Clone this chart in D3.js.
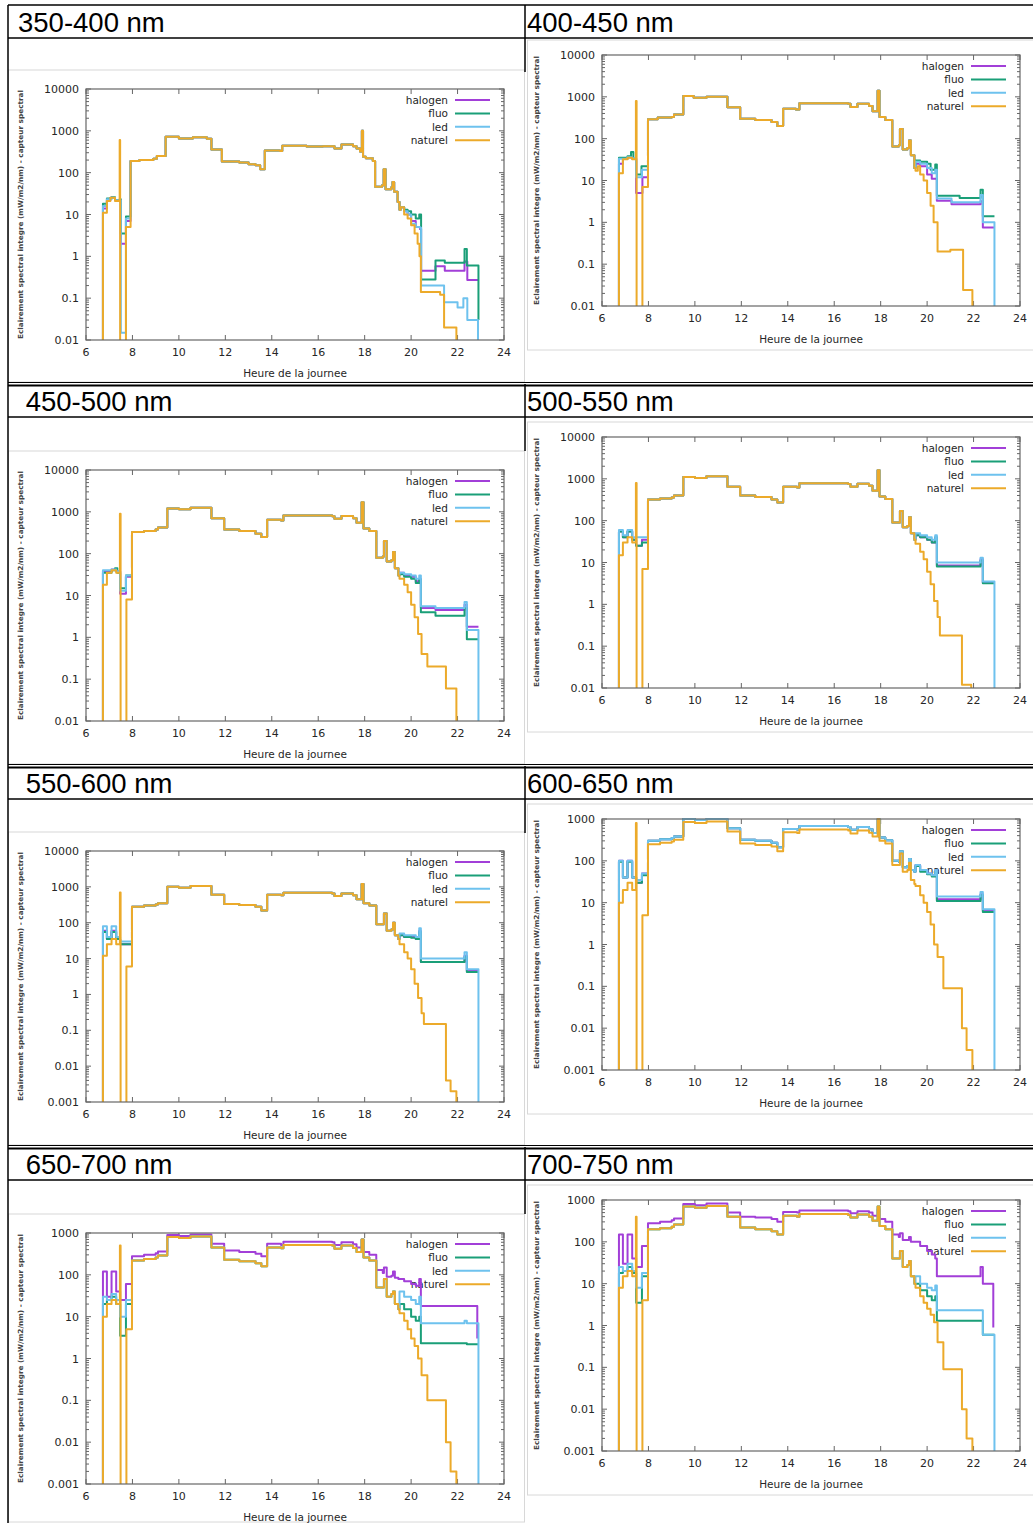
<!DOCTYPE html>
<html><head><meta charset="utf-8">
<script src="https://cdn.jsdelivr.net/npm/d3@7"></script>
<style>body{margin:0;background:#fff}</style>
</head><body><svg id="c" width="1033" height="1523"></svg>
<script>
// ---------------- DATA ----------------
const titles = ["350-400 nm","400-450 nm"," 450-500 nm","500-550 nm"," 550-600 nm","600-650 nm"," 650-700 nm","700-750 nm"];
const yDomains = [[0.01,10000],[0.01,10000],[0.01,10000],[0.01,10000],[0.001,10000],[0.001,1000],[0.001,1000],[0.001,1000]];
const xTicks = [6,8,10,12,14,16,18,20,22,24];
const seriesNames = ["halogen","fluo","led","naturel"];
const xLabel = "Heure de la journee";
const yLabel = "Eclairement spectral integre (mW/m2/nm) - capteur spectral";

// 350-400 nm
const day_350 = [[7.92,190],[8.3,200],[8.9,215],[9.05,250],[9.43,720],[10.0,660],[10.6,700],[11.2,650],[11.4,360],[11.85,185],[12.6,175],[13.0,160],[13.3,150],[13.5,120],[13.7,340],[14.35,330],[14.45,440],[15.5,420],[16.2,430],[16.7,380],[17.0,470],[17.5,430],[17.65,380],[17.8,320],[17.88,1000],[17.93,240],[18.05,220],[18.35,190],[18.45,46],[18.75,50],[18.82,120],[18.9,40],[19.15,45],[19.2,60],[19.27,35],[19.42,20],[19.5,13]];
const nat_350_m = [[6.72,1e-5],[6.73,11],[6.9,21],[7.05,25],[7.25,21],[7.43,22],[7.45,600],[7.47,1e-5],[7.72,5]];
const nat_350_e = [[19.55,15],[19.7,10],[19.85,8],[20.0,5.5],[20.15,3.5],[20.28,2],[20.36,1],[20.42,0.14],[21.25,0.12],[21.42,0.02],[21.95,1e-5]];
const hal_350_m = [[6.72,1e-5],[6.73,14],[6.9,22],[7.05,25],[7.25,22],[7.45,22],[7.5,2],[7.72,7]];
const hal_350_e = [[19.55,15],[19.7,12],[19.85,10],[20.0,7],[20.2,5],[20.38,4.5],[20.43,0.45],[21.05,0.58],[21.45,0.45],[22.3,0.75],[22.42,0.27],[22.9,0.27]];
const flu_350_m = [[6.72,1e-5],[6.73,18],[6.9,24],[7.1,26],[7.25,22],[7.45,23],[7.5,3.5],[7.72,9]];
const flu_350_e = [[19.55,15],[19.7,13],[19.85,12],[20.0,10],[20.2,8],[20.35,10],[20.43,0.28],[21.05,0.8],[21.45,0.7],[22.3,1.5],[22.4,0.6],[22.9,0.03],[22.92,0.03]];
const led_350_m = [[6.72,1e-5],[6.73,16],[6.9,23],[7.1,25],[7.25,22],[7.45,22],[7.5,0.015],[7.72,8]];
const led_350_e = [[19.55,15],[19.7,12],[19.85,10],[20.0,6],[20.2,5],[20.38,4.8],[20.43,0.2],[21.42,0.08],[22.0,0.06],[22.25,0.1],[22.42,0.03],[22.88,1e-5]];

// 400-450 nm
const day_400 = [[7.98,290],[8.4,320],[9.0,330],[9.1,380],[9.5,1050],[9.95,950],[10.5,1000],[11.4,560],[11.95,300],[12.6,280],[13.3,250],[13.55,200],[13.8,520],[14.35,500],[14.5,700],[16.6,680],[16.7,570],[17.0,680],[17.5,600],[17.65,450],[17.87,1400],[17.95,330],[18.2,280],[18.5,65],[18.78,70],[18.83,170],[18.95,55],[19.15,60],[19.22,90],[19.3,40],[19.45,20]];
const nat_400_m = [[6.72,1e-5],[6.73,15],[6.9,32],[7.1,35],[7.3,32],[7.46,800],[7.49,1e-5],[7.74,7]];
const nat_400_e = [[19.5,17],[19.6,22],[19.7,14],[19.85,10],[20.0,5],[20.15,2.5],[20.28,1],[20.45,0.2],[21.0,0.22],[21.55,0.024],[21.95,1e-5]];
const hal_400_m = [[6.72,1e-5],[6.73,25],[6.9,33],[7.1,36],[7.3,33],[7.47,5],[7.74,12]];
const hal_400_e = [[19.5,25],[19.7,22],[20.0,14],[20.2,11],[20.35,11],[20.42,3.3],[21.05,2.7],[22.3,3.2],[22.4,0.75],[22.9,0.75]];
const flu_400_m = [[6.72,1e-5],[6.73,35],[7.1,38],[7.25,48],[7.35,33],[7.47,14],[7.7,22]];
const flu_400_e = [[19.5,30],[19.7,28],[20.0,25],[20.15,18],[20.35,24],[20.42,4.3],[21.4,3.8],[22.3,6],[22.4,1.4],[22.9,1.4]];
const led_400_m = [[6.72,1e-5],[6.73,33],[7.1,36],[7.3,34],[7.47,12],[7.72,18]];
const led_400_e = [[19.5,28],[19.7,25],[20.0,20],[20.2,15],[20.35,18],[20.42,3.7],[21.05,3.0],[22.3,4.5],[22.4,1.0],[22.9,1e-5]];

// 450-500 nm
const day_450 = [[7.98,330],[8.5,350],[9.0,380],[9.1,420],[9.5,1200],[10.0,1150],[10.5,1250],[11.4,700],[11.95,380],[12.6,350],[13.3,300],[13.55,250],[13.8,650],[14.4,620],[14.5,820],[16.6,780],[16.7,680],[17.0,800],[17.5,700],[17.65,550],[17.87,1700],[17.95,400],[18.2,350],[18.5,80],[18.78,85],[18.83,200],[18.95,65],[19.15,70],[19.22,110],[19.3,45],[19.45,30]];
const nat_450_m = [[6.72,1e-5],[6.73,18],[6.9,35],[7.1,40],[7.3,35],[7.46,900],[7.49,1e-5],[7.74,8]];
const nat_450_e = [[19.5,25],[19.7,18],[19.85,12],[20.0,6],[20.15,3],[20.3,1.2],[20.45,0.4],[20.7,0.2],[21.5,0.06],[21.95,1e-5]];
const hal_450_m = [[6.72,1e-5],[6.73,38],[7.1,42],[7.3,38],[7.47,11],[7.72,28]];
const hal_450_e = [[19.5,35],[19.7,30],[20.0,28],[20.2,22],[20.35,25],[20.42,5],[21.05,4.5],[22.3,6],[22.4,1.8],[22.9,1.8]];
const flu_450_m = [[6.72,1e-5],[6.73,35],[7.1,40],[7.25,45],[7.35,35],[7.47,15],[7.72,30]];
const flu_450_e = [[19.5,32],[19.7,28],[20.0,25],[20.2,20],[20.35,24],[20.42,4],[21.05,3.3],[22.3,5],[22.4,0.9],[22.9,0.9]];
const led_450_m = [[6.72,1e-5],[6.73,40],[7.1,42],[7.3,38],[7.47,13],[7.72,30]];
const led_450_e = [[19.5,35],[19.7,32],[20.0,30],[20.2,25],[20.35,30],[20.42,5.5],[21.05,5],[22.3,7],[22.4,1.5],[22.9,1e-5]];

// 500-550 nm
const day_500 = [[7.98,320],[8.5,340],[9.0,360],[9.1,400],[9.5,1100],[10.0,1050],[10.5,1150],[11.4,650],[11.95,400],[12.6,370],[13.3,320],[13.55,270],[13.8,650],[14.4,620],[14.5,780],[16.6,750],[16.7,650],[17.0,760],[17.5,680],[17.65,520],[17.87,1600],[17.95,380],[18.2,330],[18.5,90],[18.78,90],[18.83,170],[18.95,70],[19.15,75],[19.22,120],[19.3,50],[19.45,35]];
const nat_500_m = [[6.72,1e-5],[6.73,15],[6.9,30],[7.1,40],[7.3,30],[7.46,800],[7.49,1e-5],[7.74,7]];
const nat_500_e = [[19.5,28],[19.7,18],[19.85,12],[20.0,6],[20.15,3],[20.3,1.2],[20.45,0.5],[20.55,0.18],[21.5,0.012],[21.9,1e-5]];
const hal_500_m = [[6.72,1e-5],[6.73,55],[6.9,40],[7.1,55],[7.3,35],[7.47,25],[7.72,35]];
const hal_500_e = [[19.5,45],[19.7,40],[20.0,35],[20.2,30],[20.35,40],[20.42,8.5],[22.3,12],[22.4,3.3],[22.9,3.3]];
const flu_500_m = [[6.72,1e-5],[6.73,55],[6.9,40],[7.1,55],[7.3,35],[7.47,25],[7.72,30]];
const flu_500_e = [[19.5,45],[19.7,40],[20.0,35],[20.2,30],[20.35,40],[20.42,8],[22.3,11],[22.4,3.2],[22.9,3.2]];
const led_500_m = [[6.72,1e-5],[6.73,60],[6.9,45],[7.1,60],[7.3,40],[7.47,40],[7.72,40]];
const led_500_e = [[19.5,50],[19.7,45],[20.0,40],[20.2,35],[20.35,45],[20.42,10],[22.3,13],[22.4,3.5],[22.9,1e-5]];

// 550-600 nm
const day_550 = [[7.98,280],[8.5,300],[9.0,320],[9.1,350],[9.5,1000],[10.0,950],[10.5,1050],[11.4,600],[11.95,330],[12.6,310],[13.3,280],[13.55,220],[13.8,600],[14.4,580],[14.5,680],[16.6,650],[16.7,560],[17.0,650],[17.5,580],[17.65,450],[17.87,1200],[17.95,350],[18.2,300],[18.5,90],[18.78,90],[18.83,180],[18.95,60],[19.15,65],[19.22,100],[19.3,45],[19.45,35]];
const nat_550_m = [[6.72,1e-5],[6.73,12],[6.9,25],[7.1,35],[7.3,25],[7.46,700],[7.49,1e-5],[7.74,6]];
const nat_550_e = [[19.5,25],[19.7,15],[19.85,10],[20.0,5],[20.15,2],[20.3,0.8],[20.45,0.3],[20.55,0.15],[21.5,0.004],[21.7,0.002],[21.95,1e-5]];
const hal_550_m = [[6.72,1e-5],[6.73,60],[6.9,35],[7.1,60],[7.3,35],[7.47,25],[7.72,25]];
const hal_550_e = [[19.5,45],[19.7,40],[20.0,40],[20.2,35],[20.35,60],[20.42,8],[22.3,12],[22.4,4.5],[22.9,4.5]];
const flu_550_m = [[6.72,1e-5],[6.73,55],[6.9,35],[7.1,55],[7.3,35],[7.47,25],[7.72,25]];
const flu_550_e = [[19.5,45],[19.7,40],[20.0,38],[20.2,35],[20.35,55],[20.42,8],[22.3,11],[22.4,4.2],[22.9,4.2]];
const led_550_m = [[6.72,1e-5],[6.73,80],[6.9,40],[7.1,80],[7.3,40],[7.47,30],[7.72,30]];
const led_550_e = [[19.5,50],[19.7,45],[20.0,45],[20.2,40],[20.35,70],[20.42,10],[22.3,15],[22.4,5],[22.9,1e-5]];

// 600-650 nm
const day_600 = [[7.98,250],[8.5,270],[9.0,290],[9.1,320],[9.5,850],[10.0,800],[10.5,870],[11.4,500],[11.95,260],[12.6,240],[13.3,220],[13.55,170],[13.8,480],[14.4,460],[14.5,560],[16.6,530],[16.7,450],[17.0,530],[17.5,470],[17.65,380],[17.87,1000],[17.95,300],[18.2,260],[18.5,80],[18.78,80],[18.83,150],[18.95,55],[19.15,60],[19.22,90],[19.3,35],[19.45,28]];
const dayArt_600 = [[7.98,300],[8.5,330],[9.0,350],[9.1,380],[9.5,1000],[10.0,950],[10.5,1000],[11.4,600],[11.95,320],[12.6,300],[13.3,270],[13.55,210],[13.8,580],[14.4,560],[14.5,680],[16.6,640],[16.7,550],[17.0,640],[17.5,570],[17.65,460],[17.87,1000],[17.95,360],[18.2,310],[18.5,100],[18.78,95],[18.83,170],[18.95,70],[19.15,75],[19.22,110],[19.3,60],[19.45,55]];
const nat_600_m = [[6.72,1e-5],[6.73,10],[6.9,20],[7.1,30],[7.3,20],[7.46,800],[7.49,1e-5],[7.74,5]];
const nat_600_e = [[19.5,25],[19.7,15],[19.85,10],[20.0,6],[20.15,3],[20.3,1],[20.45,0.5],[20.7,0.09],[21.5,0.01],[21.7,0.003],[21.95,1e-5]];
const hal_600_m = [[6.72,1e-5],[6.73,100],[6.9,40],[7.1,100],[7.3,40],[7.47,30],[7.72,50]];
const hal_600_e = [[19.5,80],[19.7,60],[20.0,50],[20.2,45],[20.35,60],[20.42,12],[22.3,16],[22.4,6.5],[22.9,6.5]];
const flu_600_m = [[6.72,1e-5],[6.73,95],[6.9,40],[7.1,95],[7.3,40],[7.47,30],[7.72,45]];
const flu_600_e = [[19.5,75],[19.7,55],[20.0,48],[20.2,42],[20.35,55],[20.42,11],[22.3,15],[22.4,6],[22.9,6]];
const led_600_m = [[6.72,1e-5],[6.73,100],[6.9,40],[7.1,100],[7.3,40],[7.47,35],[7.72,50]];
const led_600_e = [[19.5,80],[19.7,60],[20.0,50],[20.2,45],[20.35,60],[20.42,14],[22.3,18],[22.4,7],[22.9,1e-5]];

// 650-700 nm
const day_650 = [[7.98,220],[8.5,240],[9.0,260],[9.1,290],[9.5,800],[10.0,760],[10.5,820],[11.4,450],[11.95,230],[12.6,210],[13.3,190],[13.55,160],[13.8,450],[14.4,430],[14.5,520],[16.6,500],[16.7,420],[17.0,500],[17.5,440],[17.65,350],[17.87,700],[17.95,260],[18.2,220],[18.5,50],[18.78,50],[18.83,80],[18.95,30],[19.15,35],[19.22,40],[19.3,20],[19.45,15]];
const dayHal_650 = [[7.98,280],[8.5,300],[9.0,330],[9.1,360],[9.5,900],[10.0,850],[10.5,920],[11.4,550],[11.95,380],[12.6,350],[13.3,320],[13.55,280],[13.8,550],[14.4,520],[14.5,620],[16.6,600],[16.7,520],[17.0,600],[17.5,540],[17.65,450],[17.87,700],[17.95,350],[18.2,300],[18.5,130],[18.78,110],[18.83,150],[18.95,90],[19.15,95],[19.22,120],[19.3,85],[19.45,80]];
const nat_650_m = [[6.72,1e-5],[6.73,10],[6.9,20],[7.1,25],[7.3,20],[7.46,500],[7.49,1e-5],[7.74,5]];
const nat_650_e = [[19.5,12],[19.7,8],[19.85,5],[20.0,3],[20.15,2],[20.3,1],[20.45,0.4],[20.7,0.1],[21.5,0.01],[21.7,0.002],[21.95,1e-5]];
const hal_650_m = [[6.72,1e-5],[6.73,120],[6.9,30],[7.1,120],[7.3,40],[7.47,25],[7.72,60]];
const hal_650_e = [[19.5,80],[19.7,70],[20.0,60],[20.2,55],[20.35,80],[20.42,18],[22.4,18],[22.85,3]];
const flu_650_m = [[6.72,1e-5],[6.73,20],[6.9,25],[7.1,30],[7.3,20],[7.47,3.5],[7.72,20]];
const flu_650_e = [[19.5,20],[19.7,15],[20.0,10],[20.2,8],[20.35,10],[20.42,2.3],[22.3,2.3],[22.4,2.2],[22.9,2.2]];
const led_650_m = [[6.72,1e-5],[6.73,30],[6.9,25],[7.1,35],[7.3,25],[7.47,10],[7.72,25]];
const led_650_e = [[19.5,40],[19.7,30],[20.0,25],[20.2,20],[20.35,30],[20.42,7],[22.3,8],[22.4,7],[22.9,1e-5]];

// 700-750 nm
const day_700 = [[7.98,200],[8.5,210],[9.0,230],[9.1,260],[9.5,700],[10.0,650],[10.5,720],[11.4,400],[11.95,220],[12.6,200],[13.3,180],[13.55,150],[13.8,420],[14.4,400],[14.5,460],[16.6,440],[16.7,380],[17.0,450],[17.5,400],[17.65,320],[17.87,700],[17.95,240],[18.2,200],[18.5,40],[18.78,40],[18.83,60],[18.95,25],[19.15,28],[19.22,35],[19.3,15],[19.45,10]];
const dayHal_700 = [[7.98,280],[8.5,300],[9.0,330],[9.1,360],[9.5,800],[10.0,750],[10.5,820],[11.4,500],[11.95,400],[12.6,380],[13.3,350],[13.55,300],[13.8,520],[14.4,500],[14.5,560],[16.6,540],[16.7,480],[17.0,540],[17.5,500],[17.65,420],[17.87,600],[17.95,350],[18.2,300],[18.5,150],[18.78,130],[18.83,160],[18.95,110],[19.15,110],[19.22,130],[19.3,100],[19.45,100]];
const nat_700_m = [[6.72,1e-5],[6.73,8],[6.9,15],[7.1,20],[7.3,15],[7.46,400],[7.49,1e-5],[7.74,4]];
const nat_700_e = [[19.5,8],[19.7,5],[19.85,3.5],[20.0,2.5],[20.15,1.8],[20.3,1.2],[20.45,0.4],[20.7,0.09],[21.5,0.01],[21.7,0.002],[21.95,1e-5]];
const hal_700_m = [[6.72,1e-5],[6.73,150],[6.9,30],[7.1,150],[7.3,40],[7.47,25],[7.72,80]];
const hal_700_e = [[19.5,100],[19.7,80],[20.0,60],[20.2,50],[20.35,40],[20.42,15],[22.3,25],[22.4,10],[22.85,0.9]];
const flu_700_m = [[6.72,1e-5],[6.73,18],[6.9,20],[7.1,25],[7.3,18],[7.47,3.5],[7.72,15]];
const flu_700_e = [[19.5,10],[19.7,7],[20.0,5],[20.2,4],[20.35,5],[20.42,1.3],[22.3,1.3],[22.4,0.6],[22.9,0.6]];
const led_700_m = [[6.72,1e-5],[6.73,25],[6.9,20],[7.1,30],[7.3,20],[7.47,8],[7.72,18]];
const led_700_e = [[19.5,15],[19.7,10],[20.0,8],[20.2,7],[20.35,9],[20.42,2.3],[22.3,2.3],[22.4,0.6],[22.9,1e-5]];

// ---------------- BUILD ----------------
const panelSeries = [
  [hal_350_m.concat(day_350,hal_350_e), flu_350_m.concat(day_350,flu_350_e), led_350_m.concat(day_350,led_350_e), nat_350_m.concat(day_350,nat_350_e)],
  [hal_400_m.concat(day_400,hal_400_e), flu_400_m.concat(day_400,flu_400_e), led_400_m.concat(day_400,led_400_e), nat_400_m.concat(day_400,nat_400_e)],
  [hal_450_m.concat(day_450,hal_450_e), flu_450_m.concat(day_450,flu_450_e), led_450_m.concat(day_450,led_450_e), nat_450_m.concat(day_450,nat_450_e)],
  [hal_500_m.concat(day_500,hal_500_e), flu_500_m.concat(day_500,flu_500_e), led_500_m.concat(day_500,led_500_e), nat_500_m.concat(day_500,nat_500_e)],
  [hal_550_m.concat(day_550,hal_550_e), flu_550_m.concat(day_550,flu_550_e), led_550_m.concat(day_550,led_550_e), nat_550_m.concat(day_550,nat_550_e)],
  [hal_600_m.concat(dayArt_600,hal_600_e), flu_600_m.concat(dayArt_600,flu_600_e), led_600_m.concat(dayArt_600,led_600_e), nat_600_m.concat(day_600,nat_600_e)],
  [hal_650_m.concat(dayHal_650,hal_650_e), flu_650_m.concat(day_650,flu_650_e), led_650_m.concat(day_650,led_650_e), nat_650_m.concat(day_650,nat_650_e)],
  [hal_700_m.concat(dayHal_700,hal_700_e), flu_700_m.concat(day_700,flu_700_e), led_700_m.concat(day_700,led_700_e), nat_700_m.concat(day_700,nat_700_e)]
];

const colors = ["#a23fd8","#1a9f78","#6ec2ee","#ecaa2a"];
const svg = d3.select("#c");

// ---------------- TABLE LAYOUT ----------------
const rowTops = [5, 384, 766, 1147];
const headH = 33;
const plotLeft = [86, 602];
const plotW = 418, plotH = 251;
const plotTopL = [89, 470, 851, 1233];
const plotTopR = [55, 437, 819, 1200];
const imgTopL = [70, 451, 832, 1214];
const imgTopR = [40, 422, 804, 1185];

for (let r = 0; r < 4; r++) {
  svg.append("rect").attr("x", 8.5).attr("y", imgTopL[r]).attr("width", 516).attr("height", (r<3? rowTops[r+1]-2 : 1522) - imgTopL[r])
    .attr("fill", "#fff").attr("stroke", "#d8d8d8");
  svg.append("rect").attr("x", 527.5).attr("y", imgTopR[r]).attr("width", 510).attr("height", 310)
    .attr("fill", "#fff").attr("stroke", "#d8d8d8");
}

const tl = svg.append("g").attr("stroke", "#000");
tl.append("line").attr("x1", 8).attr("x2", 8).attr("y1", 5).attr("y2", 1523).attr("stroke-width", 1.5);
rowTops.forEach((t, r) => {
  if (r === 0) {
    tl.append("line").attr("x1", 8).attr("x2", 1033).attr("y1", t).attr("y2", t).attr("stroke-width", 1.5);
  } else {
    tl.append("line").attr("x1", 8).attr("x2", 1033).attr("y1", t - 1.5).attr("y2", t - 1.5).attr("stroke-width", 1);
    tl.append("line").attr("x1", 8).attr("x2", 1033).attr("y1", t + 1.5).attr("y2", t + 1.5).attr("stroke-width", 2);
  }
  tl.append("line").attr("x1", 8).attr("x2", 1033).attr("y1", t + headH).attr("y2", t + headH).attr("stroke-width", 1.5);
  tl.append("line").attr("x1", 525).attr("x2", 525).attr("y1", t).attr("y2", t + headH + 34).attr("stroke-width", 1.5);
});

titles.forEach((t, i) => {
  const r = Math.floor(i / 2), c = i % 2;
  svg.append("text").attr("x", c === 0 ? 18 : 527).attr("y", rowTops[r] + 27)
    .attr("font-family", "Liberation Sans, Arial, sans-serif").attr("font-size", 27.5)
    .attr("fill", "#000").style("white-space", "pre").text(t);
});

// ---------------- PANELS ----------------
titles.forEach((t, i) => {
  const r = Math.floor(i / 2), c = i % 2;
  const L = plotLeft[c], T = c === 0 ? plotTopL[r] : plotTopR[r];
  const x = d3.scaleLinear().domain([6, 24]).range([L, L + plotW]);
  const dom = yDomains[i];
  const y = d3.scaleLog().domain(dom).range([T + plotH, T]);
  const g = svg.append("g");
  const gray = "#666";

  const decades = [];
  for (let e = Math.round(Math.log10(dom[0])); e <= Math.round(Math.log10(dom[1])); e++) decades.push(Math.pow(10, e));
  const minors = [];
  decades.slice(0, -1).forEach(d => { for (let k = 2; k <= 9; k++) minors.push(d * k); });

  const tk = g.append("g").attr("stroke", gray).attr("stroke-width", 1);
  xTicks.forEach(v => {
    tk.append("line").attr("x1", x(v)).attr("x2", x(v)).attr("y1", T + plotH).attr("y2", T + plotH - 5);
    tk.append("line").attr("x1", x(v)).attr("x2", x(v)).attr("y1", T).attr("y2", T + 5);
  });
  decades.forEach(v => {
    tk.append("line").attr("x1", L).attr("x2", L + 5).attr("y1", y(v)).attr("y2", y(v));
    tk.append("line").attr("x1", L + plotW).attr("x2", L + plotW - 5).attr("y1", y(v)).attr("y2", y(v));
  });
  minors.forEach(v => {
    tk.append("line").attr("x1", L).attr("x2", L + 3).attr("y1", y(v)).attr("y2", y(v));
    tk.append("line").attr("x1", L + plotW).attr("x2", L + plotW - 3).attr("y1", y(v)).attr("y2", y(v));
  });

  const lab = g.append("g").attr("font-family", "DejaVu Sans, sans-serif").attr("font-size", 11).attr("fill", "#262626");
  xTicks.forEach(v => lab.append("text").attr("x", x(v)).attr("y", T + plotH + 16).attr("text-anchor", "middle").text(v));
  decades.forEach(v => lab.append("text").attr("x", L - 7).attr("y", y(v) + 4).attr("text-anchor", "end").text(d3.format("~g")(v)));
  lab.append("text").attr("x", L + plotW / 2).attr("y", T + plotH + 37).attr("text-anchor", "middle").attr("font-size", 10.5).text(xLabel);
  g.append("text").attr("transform", `translate(${L - 63},${T + plotH / 2}) rotate(-90)`)
    .attr("text-anchor", "middle").attr("font-family", "DejaVu Sans, sans-serif").attr("font-size", 7).attr("font-weight", "bold")
    .attr("fill", "#444").attr("textLength", plotH - 2).attr("lengthAdjust", "spacingAndGlyphs").text(yLabel);

  const cid = "clip" + i;
  svg.append("clipPath").attr("id", cid).append("rect").attr("x", L).attr("y", T - 1).attr("width", plotW).attr("height", plotH + 1);

  const line = d3.line().x(d => x(d[0])).y(d => y(Math.max(d[1], dom[0] / 10))).curve(d3.curveStepAfter);
  const lg = g.append("g").attr("clip-path", `url(#${cid})`);
  panelSeries[i].forEach((s, k) => {
    lg.append("path").attr("d", line(s)).attr("fill", "none").attr("stroke", colors[k])
      .attr("stroke-width", 2).attr("stroke-linejoin", "round");
  });

  g.append("rect").attr("x", L).attr("y", T).attr("width", plotW).attr("height", plotH).attr("fill", "none").attr("stroke", gray).attr("stroke-width", 1.2);

  seriesNames.forEach((n, k) => {
    const ly = T + 11 + k * 13.4;
    lab.append("text").attr("x", L + plotW - 56).attr("y", ly + 4).attr("text-anchor", "end").attr("font-size", 10.5).text(n);
    g.append("line").attr("x1", L + plotW - 49).attr("x2", L + plotW - 14).attr("y1", ly).attr("y2", ly)
      .attr("stroke", colors[k]).attr("stroke-width", 2);
  });
});
</script></body></html>
